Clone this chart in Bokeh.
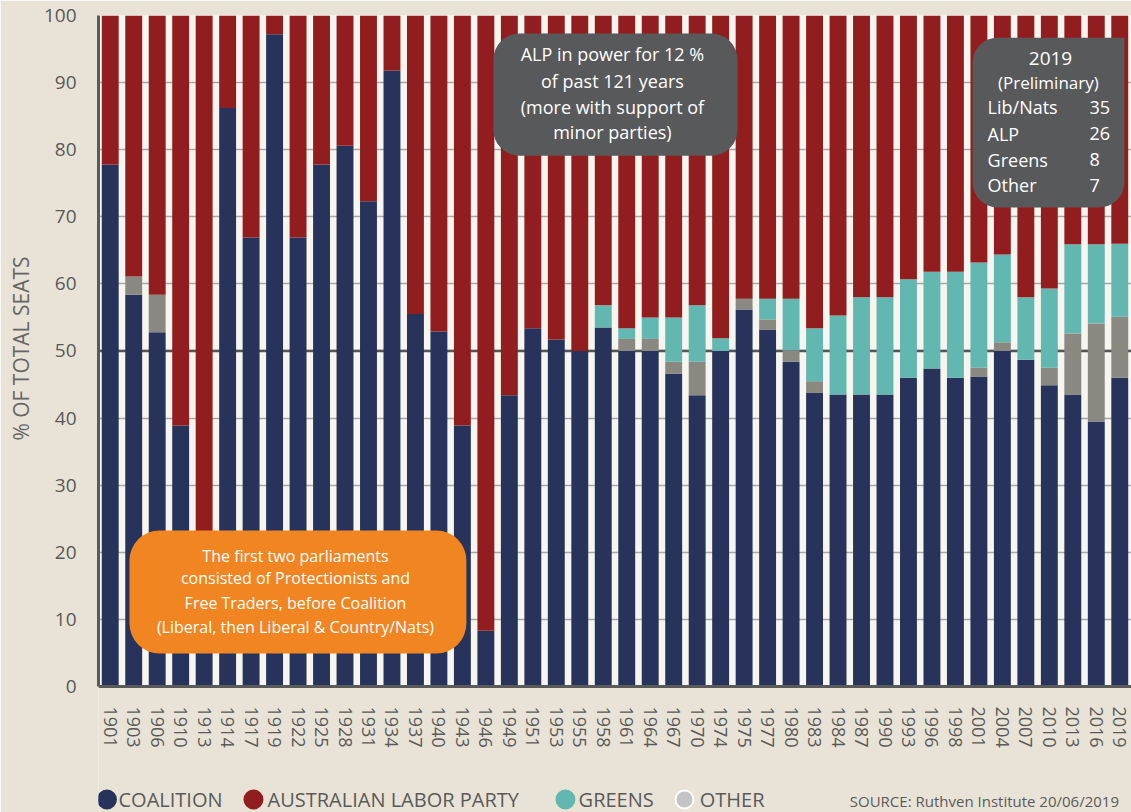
from bokeh.plotting import figure
from bokeh.models import FactorRange, Range1d, ColumnDataSource, Span, FixedTicker
from bokeh.core.properties import value
from bokeh.embed import file_html
from bokeh.resources import INLINE

years = ["1901", "1903", "1906", "1910", "1913", "1914", "1917", "1919", "1922", "1925",
         "1928", "1931", "1934", "1937", "1940", "1943", "1946", "1949", "1951", "1953",
         "1955", "1958", "1961", "1964", "1967", "1970", "1974", "1975", "1977", "1980",
         "1983", "1984", "1987", "1990", "1993", "1996", "1998", "2001", "2004", "2007",
         "2010", "2013", "2016", "2019"]

coalition = [77.8, 58.4, 52.8, 38.9, 12.0, 86.2, 66.9, 97.2, 66.9, 77.8,
             80.6, 72.3, 91.8, 55.5, 52.9, 38.9, 8.3, 43.4, 53.4, 51.7,
             50.0, 53.5, 50.0, 50.0, 46.6, 43.4, 50.0, 56.2, 53.2, 48.4,
             43.8, 43.5, 43.5, 43.5, 46.0, 47.4, 46.0, 46.2, 50.0, 48.7,
             44.9, 43.5, 39.5, 46.0]

other = [0, 2.7, 5.6, 0, 0, 0, 0, 0, 0, 0,
         0, 0, 0, 0, 0, 0, 0, 0, 0, 0,
         0, 0, 1.8, 1.8, 1.8, 5.0, 0, 1.6, 1.5, 1.7,
         1.7, 0, 0, 0, 0, 0, 0, 1.3, 1.3, 0,
         2.6, 9.1, 14.6, 9.1]

greens = [0, 0, 0, 0, 0, 0, 0, 0, 0, 0,
          0, 0, 0, 0, 0, 0, 0, 0, 0, 0,
          0, 3.3, 1.6, 3.2, 6.6, 8.4, 1.9, 0, 3.1, 7.7,
          7.9, 11.8, 14.5, 14.5, 14.7, 14.4, 15.8, 15.7, 13.1, 9.3,
          11.8, 13.3, 11.8, 10.9]

alp = [22.2, 38.9, 41.6, 61.1, 88.0, 13.8, 33.1, 2.8, 33.1, 22.2,
       19.4, 27.7, 8.2, 44.5, 47.1, 61.1, 91.7, 56.6, 46.6, 48.3,
       50.0, 43.2, 46.6, 45.0, 45.0, 43.2, 48.1, 42.2, 42.2, 42.2,
       46.6, 44.7, 42.0, 42.0, 39.3, 38.2, 38.2, 36.8, 35.6, 42.0,
       40.7, 34.1, 34.1, 34.0]

y_ticks = [0, 10, 20, 30, 40, 50, 60, 70, 80, 90, 100]

legend_labels = ["COALITION", "AUSTRALIAN LABOR PARTY", "GREENS", "OTHER"]
source_note = "SOURCE: Ruthven Institute 20/06/2019"
y_title = "% OF TOTAL SEATS"

NAVY = "#27335A"
RED = "#921D1F"
TEAL = "#62B7B0"
GREY = "#898982"
BEIGE = "#E8E3D6"
PANEL = "#F7F5EF"
BOX = "#58595B"
ORANGE = "#F08522"
FONT = "Open Sans"

# frame runs from y=15 to the page bottom; 0..100 occupies 671 px, so the
# strip below zero (axis labels and legend) is 126 px = 18.778 units
Y_BOTTOM = -18.778

src = ColumnDataSource(dict(year=years, coalition=coalition, other=other,
                            greens=greens, alp=alp))

p = figure(x_range=FactorRange(factors=years), y_range=Range1d(Y_BOTTOM, 100),
           width=1131, height=812, output_backend="svg", toolbar_location=None,
           min_border_left=98, min_border_right=0, min_border_top=15,
           min_border_bottom=0)
p.background_fill_color = PANEL
p.border_fill_color = BEIGE
p.outline_line_color = None

p.xgrid.grid_line_color = None
p.ygrid.ticker = FixedTicker(ticks=y_ticks)
p.ygrid.grid_line_color = "#A8A8A8"
p.ygrid.grid_line_width = 1.5

# beige strip below the zero line (holds axis labels and legend)
p.quad(left=[-2], right=[46], bottom=[Y_BOTTOM - 5], top=[0],
       fill_color=BEIGE, line_color=None, level="underlay")

p.add_layout(Span(location=50, dimension="width", line_color="#555555",
                  line_width=2.5, level="underlay"))

p.vbar_stack(["coalition", "other", "greens", "alp"], x="year", width=0.72,
             fill_color=[NAVY, GREY, TEAL, RED], line_color=None, source=src)

# y axis
ya = p.yaxis[0]
ya.ticker = FixedTicker(ticks=y_ticks)
ya.bounds = (0, 100)
ya.axis_line_width = 3
ya.axis_line_color = "#5A5A5A"
ya.major_tick_line_color = None
ya.minor_tick_line_color = None
ya.major_label_text_font = FONT
ya.major_label_text_font_size = "19px"
ya.major_label_text_color = "#595959"
ya.major_label_standoff = 16
# the label is centred on the whole frame; non-breaking spaces lift it
# so that it is centred on the 0-100 part instead
ya.axis_label = "\u00a0" * 24 + y_title
ya.axis_label_text_font = FONT
ya.axis_label_text_font_size = "21px"
ya.axis_label_text_font_style = "normal"
ya.axis_label_text_color = "#666666"
ya.axis_label_standoff = 6

# x axis, pinned at zero
xa = p.xaxis[0]
xa.fixed_location = 0
xa.axis_line_width = 3
xa.axis_line_color = "#5A5A5A"
xa.major_tick_line_color = None
xa.minor_tick_line_color = None
xa.major_label_orientation = "vertical"
xa.major_label_text_font = FONT
xa.major_label_text_font_size = "18px"
xa.major_label_text_color = "#5A5A5A"
xa.major_label_standoff = 14

# annotation boxes (positions in plot coordinates)
p.quad(left=[16.82], right=[27.22], top=[97.3], bottom=[79.1],
       fill_color=BOX, line_color=None, border_radius=26)
p.quad(left=[37.23], right=[43.70], top=[96.7], bottom=[71.4],
       fill_color=BOX, line_color=None, border_radius=(25, 0, 25, 25))
p.quad(left=[1.32], right=[15.67], top=[23.25], bottom=[4.92],
       fill_color=ORANGE, line_color=None, border_radius=30)

p.text(x=[21.89] * 4, y=[94.3, 90.3, 86.4, 82.6],
       text=["ALP in power for 12 %", "of past 121 years",
             "(more with support of", "minor parties)"],
       text_font=value(FONT), text_font_size="18px", text_color="white",
       text_align="center", text_baseline="middle")

p.text(x=[40.55, 40.46], y=[93.6, 90.0], text=["2019", "(Preliminary)"],
       text_font=value(FONT), text_font_size=["19px", "17px"], text_color="white",
       text_align="center", text_baseline="middle")
p.text(x=[37.87] * 4, y=[86.3, 82.4, 78.5, 74.7],
       text=["Lib/Nats", "ALP", "Greens", "Other"],
       text_font=value(FONT), text_font_size="18px", text_color="white",
       text_align="left", text_baseline="middle")
p.text(x=[42.21] * 4, y=[86.3, 82.4, 78.5, 74.7],
       text=["35", "26", "8", "7"],
       text_font=value(FONT), text_font_size="18px", text_color="white",
       text_align="left", text_baseline="middle")

p.text(x=[8.39] * 4, y=[19.5, 16.1, 12.5, 8.9],
       text=["The first two parliaments", "consisted of Protectionists and",
             "Free Traders, before Coalition",
             "(Liberal, then Liberal & Country/Nats)"],
       text_font=value(FONT), text_font_size="16px", text_color="white",
       text_align="center", text_baseline="middle")

# legend in the strip below the axis
LEG_Y = -16.84
lsrc = ColumnDataSource(dict(x=[0.36, 6.60, 19.89, 24.96], y=[LEG_Y] * 4,
                             fill=[NAVY, RED, TEAL, "#C4C4C4"],
                             line=[NAVY, RED, TEAL, "white"]))
p.scatter(x="x", y="y", size=18, fill_color="fill", line_color="line",
          line_width=2, source=lsrc)
p.text(x=[0.852, 7.199, 20.45, 25.61], y=[LEG_Y] * 4, text=legend_labels,
       text_font=value(FONT), text_font_size="20px", text_color="#5A5A5A",
       text_align="left", text_baseline="middle")
p.text(x=[32.0], y=[-16.99], text=[source_note],
       text_font=value(FONT), text_font_size="15px", text_color="#5A5A5A",
       text_align="left", text_baseline="middle")

open("out.html", "w").write(file_html(p, INLINE))
